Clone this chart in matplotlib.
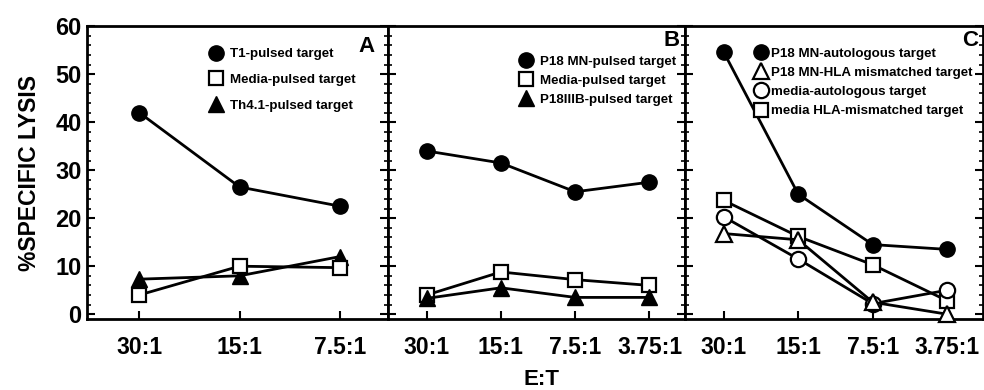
import matplotlib
matplotlib.use("Agg")
import matplotlib.pyplot as plt
from matplotlib.lines import Line2D
from matplotlib.ticker import MultipleLocator

plt.rcParams['font.family'] = ['Liberation Sans', 'DejaVu Sans']
plt.rcParams['font.weight'] = 'bold'

# data
ratios_a = ["30:1", "15:1", "7.5:1"]
ratios_bc = ["30:1", "15:1", "7.5:1", "3.75:1"]

a_t1 = [42, 26.5, 22.5]
a_media = [4, 10, 9.7]
a_th41 = [7.3, 8, 12]

b_p18mn = [34, 31.5, 25.5, 27.5]
b_media = [4, 8.8, 7.2, 6]
b_p18iiib = [3.3, 5.5, 3.5, 3.5]

c_mn_auto = [54.6, 25, 14.5, 13.5]
c_mn_hla = [16.8, 15.5, 2.5, 0]
c_media_auto = [20.3, 11.5, 2.2, 5]
c_media_hla = [23.7, 16.2, 10.3, 2.8]

labels_a = ["T1-pulsed target", "Media-pulsed target", "Th4.1-pulsed target"]
labels_b = ["P18 MN-pulsed target", "Media-pulsed target", "P18IIIB-pulsed target"]
labels_c = ["P18 MN-autologous target", "P18 MN-HLA mismatched target",
            "media-autologous target", "media HLA-mismatched target"]

circle_f = dict(marker='o', ms=11, mfc='black', mec='black')
circle_o = dict(marker='o', ms=11, mfc='white', mec='black', mew=1.6)
square_o = dict(marker='s', ms=10, mfc='white', mec='black', mew=1.6)
tri_f = dict(marker='^', ms=11, mfc='black', mec='black')
tri_o = dict(marker='^', ms=11, mfc='white', mec='black', mew=1.6)

fig = plt.figure(figsize=(9.84, 3.9), dpi=100)
bottom, height = 0.182, 0.751
ax_a = fig.add_axes([0.0884, bottom, 0.306, height])
ax_b = fig.add_axes([0.3943, bottom, 0.302, height])
ax_c = fig.add_axes([0.6961, bottom, 0.3029, height])


def style(ax, cats, show_y):
    ax.set_ylim(-1, 60)
    ax.set_xlim(-0.52, len(cats) - 0.52)
    ax.set_xticks(range(len(cats)))
    ax.set_xticklabels(cats, fontsize=16.5, fontweight='bold')
    ax.yaxis.set_major_locator(MultipleLocator(10))
    ax.yaxis.set_minor_locator(MultipleLocator(2))
    ax.tick_params(axis='y', which='major', direction='in', length=6, width=1.5,
                   left=True, right=True, labelleft=show_y, labelsize=17, pad=4)
    ax.tick_params(axis='y', which='minor', direction='in', length=3, width=1.2,
                   left=True, right=True)
    ax.tick_params(axis='x', which='major', direction='in', length=6, width=1.5,
                   pad=12, top=False)
    for lab in ax.get_yticklabels():
        lab.set_fontweight('bold')
    for s in ax.spines.values():
        s.set_linewidth(2)


def legend(ax, styles, labels, anchor, spacing, textpad):
    handles = [Line2D([], [], linestyle='none', **st) for st in styles]
    ax.legend(handles, labels, loc='upper left', bbox_to_anchor=anchor,
              frameon=False, handlelength=0.9, handletextpad=textpad,
              labelspacing=spacing, borderpad=0, borderaxespad=0,
              prop={'size': 9.6, 'weight': 'bold'})


# panel A
x = range(len(ratios_a))
ax_a.plot(x, a_t1, color='black', lw=2, zorder=3, **circle_f)
ax_a.plot(x, a_th41, color='black', lw=2, zorder=3, **tri_f)
ax_a.plot(x, a_media, color='black', lw=2, zorder=4, **square_o)
style(ax_a, ratios_a, True)
legend(ax_a, [circle_f, square_o, tri_f], labels_a, (0.41, 0.925), 1.0, 0.6)
ax_a.text(0.955, 0.93, "A", transform=ax_a.transAxes, ha='right', va='center',
          fontsize=16, fontweight='bold')
ax_a.set_ylabel("%SPECIFIC LYSIS", fontsize=16.5, fontweight='bold', labelpad=10)

# panel B
x = range(len(ratios_bc))
ax_b.plot(x, b_p18mn, color='black', lw=2, zorder=3, **circle_f)
ax_b.plot(x, b_media, color='black', lw=2, zorder=3, **square_o)
ax_b.plot(x, b_p18iiib, color='black', lw=2, zorder=4, **tri_f)
style(ax_b, ratios_bc, False)
legend(ax_b, [circle_f, square_o, tri_f], labels_b, (0.445, 0.9), 0.5, 0.55)
ax_b.text(0.98, 0.95, "B", transform=ax_b.transAxes, ha='right', va='center',
          fontsize=16, fontweight='bold')

# panel C
ax_c.plot(x, c_mn_auto, color='black', lw=2, zorder=3, **circle_f)
ax_c.plot(x, c_media_hla, color='black', lw=2, zorder=3, **square_o)
ax_c.plot(x, c_media_auto, color='black', lw=2, zorder=4, **circle_o)
ax_c.plot(x, c_mn_hla, color='black', lw=2, zorder=5, clip_on=False, **tri_o)
style(ax_c, ratios_bc, False)
legend(ax_c, [circle_f, tri_o, circle_o, square_o], labels_c, (0.235, 0.928), 0.52, 0.3)
ax_c.text(0.985, 0.95, "C", transform=ax_c.transAxes, ha='right', va='center',
          fontsize=16, fontweight='bold')

fig.text(0.55, 0.0, "E:T", ha='center', va='bottom', fontsize=16, fontweight='bold')

fig.savefig("out.png", dpi=100)
